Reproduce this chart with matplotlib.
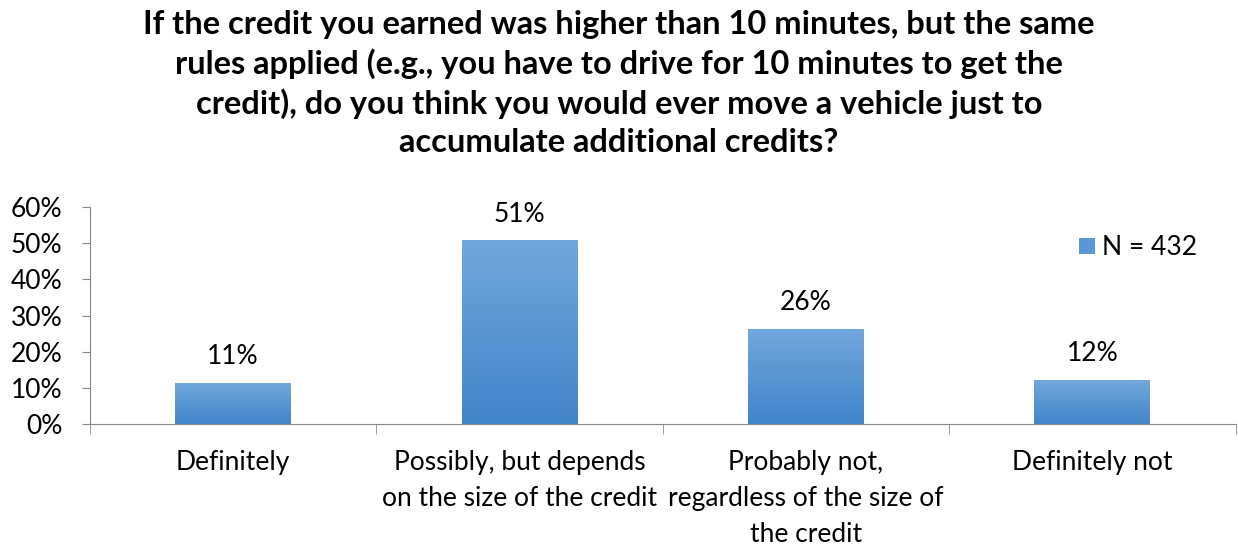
import matplotlib.pyplot as plt
import numpy as np
from matplotlib.colors import LinearSegmentedColormap
from matplotlib.patches import Patch

# Data
categories = [
    "Definitely",
    "Possibly, but depends\non the size of the credit",
    "Probably not,\nregardless of the size of\nthe credit",
    "Definitely not",
]
values = [11.4, 50.8, 26.4, 12.1]
bar_labels = ["11%", "51%", "26%", "12%"]
series_name = "N = 432"
title = ("If the credit you earned was higher than 10 minutes, but the same\n"
         "rules applied (e.g., you have to drive for 10 minutes to get the\n"
         "credit), do you think you would ever move a vehicle just to\n"
         "accumulate additional credits?")

plt.rcParams["font.family"] = ["Lato", "DejaVu Sans"]

fig = plt.figure(figsize=(12.38, 5.48), dpi=100)
ax = fig.add_axes([0.0727, 0.2263, 0.9253, 0.3957])

x = np.arange(len(categories))
bar_width = 0.405
grad = LinearSegmentedColormap.from_list("g", ["#4185ca", "#72a7dc"])

bars = ax.bar(x, values, width=bar_width, color="none", label=series_name)
for b in bars:
    im = ax.imshow(np.linspace(0, 1, 100).reshape(-1, 1), cmap=grad,
                   origin="lower", aspect="auto",
                   extent=[b.get_x(), b.get_x() + b.get_width(), 0, b.get_height()],
                   zorder=2)
    im.set_clip_path(b)

for xi, v, lab in zip(x, values, bar_labels):
    ax.annotate(lab, (xi, v), xytext=(0, 10), textcoords="offset points",
                ha="center", va="bottom", fontsize=19)

ax.set_xlim(-0.5, len(categories) - 0.5)
ax.set_ylim(0, 60)
ax.set_yticks(np.arange(0, 61, 10))
ax.set_yticklabels([f"{t}%" for t in range(0, 61, 10)], fontsize=19)
ax.set_xticks(x)
ax.set_xticklabels(categories, fontsize=19, linespacing=1.55, va="top")
ax.set_xticks(np.arange(-0.5, len(categories), 1), minor=True)
ax.tick_params(axis="x", which="major", length=0, pad=19)
ax.tick_params(axis="x", which="minor", length=7, color="#888888", direction="out")
ax.tick_params(axis="y", length=6, color="#888888", direction="out", pad=14)

for s in ["top", "right"]:
    ax.spines[s].set_visible(False)
for s in ["left", "bottom"]:
    ax.spines[s].set_color("#888888")

handle = Patch(facecolor="#5a97d6", edgecolor="none")
ax.legend([handle], [series_name], loc="upper right", bbox_to_anchor=(0.983, 0.955),
          frameon=False, fontsize=19, handlelength=0.6, handleheight=0.6,
          handletextpad=0.3, borderpad=0.2)

fig.text(0.5, 1 - 10 / 548, title, ha="center", va="top", fontsize=23.5,
         fontweight="bold", linespacing=1.36)

fig.savefig("out.png", dpi=100)
